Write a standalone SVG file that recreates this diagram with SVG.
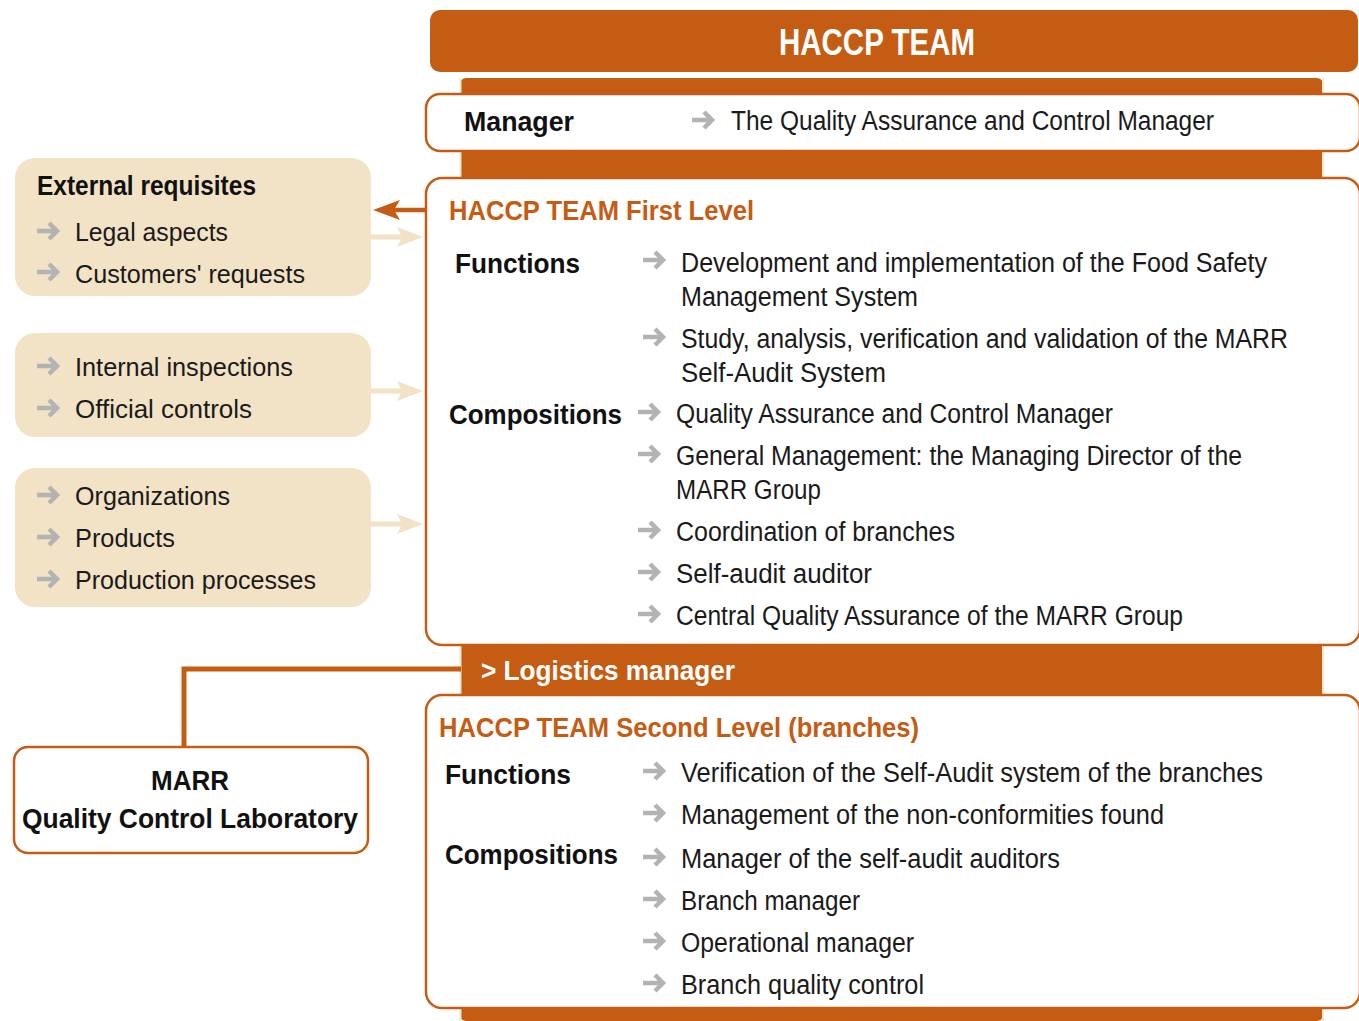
<svg xmlns="http://www.w3.org/2000/svg" xmlns:xlink="http://www.w3.org/1999/xlink" width="1359" height="1021" viewBox="0 0 1359 1021">
<style>
text{font-family:"Liberation Sans",Arial,sans-serif;}
.t{font-size:27px;fill:#1a1a1a;}
.tl{font-size:26px;fill:#1a1a1a;}
.b{font-size:28px;font-weight:bold;fill:#111;}
.ob{font-size:28px;font-weight:bold;fill:#c55c14;}
.wb{font-weight:bold;fill:#fff;}
.box{fill:#fff;stroke:#c55c14;stroke-width:2.5;}
.beige{fill:#f2e2c6;}
.conn{fill:none;stroke:#c55c14;stroke-width:5;}
</style>
<defs>
<g id="ga"><path d="M-1,0 H19 M11,-8 L19,0 L11,8" fill="none" stroke="#b3b3b3" stroke-width="4.5"/></g>
</defs>
<rect width="1359" height="1021" fill="#fff"/>
<g id="band">
<rect x="460" y="78" width="863" height="943" rx="6" fill="#c55c14"/>
<line x1="460.5" y1="78" x2="460.5" y2="1021" stroke="#e4ead0" stroke-width="2"/>
<line x1="1323" y1="78" x2="1323" y2="1021" stroke="#e4ead0" stroke-width="2"/>
</g>
<g id="header">
<rect x="430" y="10" width="928" height="62" rx="10" fill="#c55c14"/>
<text class="wb" x="877" y="55" font-size="37" text-anchor="middle" textLength="196" lengthAdjust="spacingAndGlyphs">HACCP TEAM</text>
</g>
<g id="manager">
<rect class="box" x="426" y="94" width="934" height="57" rx="14"/>
<text class="b" x="464" y="131" textLength="110" lengthAdjust="spacingAndGlyphs">Manager</text>
<use xlink:href="#ga" x="693" y="120"/>
<text class="t" x="731" y="130" textLength="483" lengthAdjust="spacingAndGlyphs">The Quality Assurance and Control Manager</text>
</g>
<g id="first-level">
<rect class="box" x="426" y="178" width="934" height="467" rx="16"/>
<text class="ob" x="449" y="220" textLength="305" lengthAdjust="spacingAndGlyphs">HACCP TEAM First Level</text>
<text class="b" x="455" y="273" textLength="125" lengthAdjust="spacingAndGlyphs">Functions</text>
<use xlink:href="#ga" x="644" y="260"/>
<text class="t" x="681" y="272" textLength="586" lengthAdjust="spacingAndGlyphs">Development and implementation of the Food Safety</text>
<text class="t" x="681" y="306" textLength="237" lengthAdjust="spacingAndGlyphs">Management System</text>
<use xlink:href="#ga" x="644" y="337"/>
<text class="t" x="681" y="348" textLength="607" lengthAdjust="spacingAndGlyphs">Study, analysis, verification and validation of the MARR</text>
<text class="t" x="681" y="382" textLength="205" lengthAdjust="spacingAndGlyphs">Self-Audit System</text>
<text class="b" x="449" y="424" textLength="173" lengthAdjust="spacingAndGlyphs">Compositions</text>
<use xlink:href="#ga" x="639" y="412"/>
<text class="t" x="676" y="423" textLength="437" lengthAdjust="spacingAndGlyphs">Quality Assurance and Control Manager</text>
<use xlink:href="#ga" x="639" y="454"/>
<text class="t" x="676" y="465" textLength="566" lengthAdjust="spacingAndGlyphs">General Management: the Managing Director of the</text>
<text class="t" x="676" y="499" textLength="145" lengthAdjust="spacingAndGlyphs">MARR Group</text>
<use xlink:href="#ga" x="639" y="530"/>
<text class="t" x="676" y="541" textLength="279" lengthAdjust="spacingAndGlyphs">Coordination of branches</text>
<use xlink:href="#ga" x="639" y="572"/>
<text class="t" x="676" y="583" textLength="196" lengthAdjust="spacingAndGlyphs">Self-audit auditor</text>
<use xlink:href="#ga" x="639" y="614"/>
<text class="t" x="676" y="625" textLength="507" lengthAdjust="spacingAndGlyphs">Central Quality Assurance of the MARR Group</text>
</g>
<g id="logistics">
<text class="wb" x="481" y="680" font-size="28" textLength="254" lengthAdjust="spacingAndGlyphs">&gt; Logistics manager</text>
</g>
<g id="second-level">
<rect class="box" x="426" y="695" width="934" height="313" rx="16"/>
<text class="ob" x="439" y="737" textLength="480" lengthAdjust="spacingAndGlyphs">HACCP TEAM Second Level (branches)</text>
<text class="b" x="445" y="784" textLength="126" lengthAdjust="spacingAndGlyphs">Functions</text>
<use xlink:href="#ga" x="644" y="771"/>
<text class="t" x="681" y="782" textLength="582" lengthAdjust="spacingAndGlyphs">Verification of the Self-Audit system of the branches</text>
<use xlink:href="#ga" x="644" y="813"/>
<text class="t" x="681" y="824" textLength="483" lengthAdjust="spacingAndGlyphs">Management of the non-conformities found</text>
<text class="b" x="445" y="864" textLength="173" lengthAdjust="spacingAndGlyphs">Compositions</text>
<use xlink:href="#ga" x="644" y="857"/>
<text class="t" x="681" y="868" textLength="379" lengthAdjust="spacingAndGlyphs">Manager of the self-audit auditors</text>
<use xlink:href="#ga" x="644" y="899"/>
<text class="t" x="681" y="910" textLength="179" lengthAdjust="spacingAndGlyphs">Branch manager</text>
<use xlink:href="#ga" x="644" y="941"/>
<text class="t" x="681" y="952" textLength="233" lengthAdjust="spacingAndGlyphs">Operational manager</text>
<use xlink:href="#ga" x="644" y="983"/>
<text class="t" x="681" y="994" textLength="243" lengthAdjust="spacingAndGlyphs">Branch quality control</text>
</g>
<g id="external-requisites">
<rect class="beige" x="15" y="158" width="356" height="138" rx="20"/>
<text class="b" x="37" y="195" font-size="25" textLength="219" lengthAdjust="spacingAndGlyphs">External requisites</text>
<use xlink:href="#ga" x="38" y="231"/>
<text class="tl" x="75" y="241" textLength="153" lengthAdjust="spacingAndGlyphs">Legal aspects</text>
<use xlink:href="#ga" x="38" y="272"/>
<text class="tl" x="75" y="283" textLength="230" lengthAdjust="spacingAndGlyphs">Customers' requests</text>
</g>
<g id="inspections">
<rect class="beige" x="15" y="333" width="356" height="104" rx="20"/>
<use xlink:href="#ga" x="38" y="366"/>
<text class="tl" x="75" y="376" textLength="218" lengthAdjust="spacingAndGlyphs">Internal inspections</text>
<use xlink:href="#ga" x="38" y="408"/>
<text class="tl" x="75" y="418" textLength="177" lengthAdjust="spacingAndGlyphs">Official controls</text>
</g>
<g id="organizations">
<rect class="beige" x="15" y="468" width="356" height="139" rx="20"/>
<use xlink:href="#ga" x="38" y="495"/>
<text class="tl" x="75" y="505" textLength="155" lengthAdjust="spacingAndGlyphs">Organizations</text>
<use xlink:href="#ga" x="38" y="537"/>
<text class="tl" x="75" y="547" textLength="100" lengthAdjust="spacingAndGlyphs">Products</text>
<use xlink:href="#ga" x="38" y="579"/>
<text class="tl" x="75" y="589" textLength="241" lengthAdjust="spacingAndGlyphs">Production processes</text>
</g>
<g id="marr-lab">
<rect class="box" x="14" y="747" width="354" height="106" rx="14"/>
<text class="b" x="190" y="790" font-size="29" text-anchor="middle" textLength="78" lengthAdjust="spacingAndGlyphs">MARR</text>
<text class="b" x="190" y="828" font-size="29" text-anchor="middle" textLength="336" lengthAdjust="spacingAndGlyphs">Quality Control Laboratory</text>
</g>
<g id="connectors">
<path d="M425,210 H392" fill="none" stroke="#c55c14" stroke-width="4.5"/>
<polygon points="373,210 400,200 394,210 400,220" fill="#c55c14"/>
<path d="M371,237 H404" fill="none" stroke="#f2e2c6" stroke-width="5"/>
<polygon points="423,237 397,227 402,237 397,247" fill="#f2e2c6"/>
<path d="M371,391 H404" fill="none" stroke="#f2e2c6" stroke-width="5"/>
<polygon points="423,391 397,381 402,391 397,401" fill="#f2e2c6"/>
<path d="M371,524 H404" fill="none" stroke="#f2e2c6" stroke-width="5"/>
<polygon points="423,524 397,514 402,524 397,534" fill="#f2e2c6"/>
<path class="conn" d="M184,746 V669 H461"/>
</g>
</svg>
